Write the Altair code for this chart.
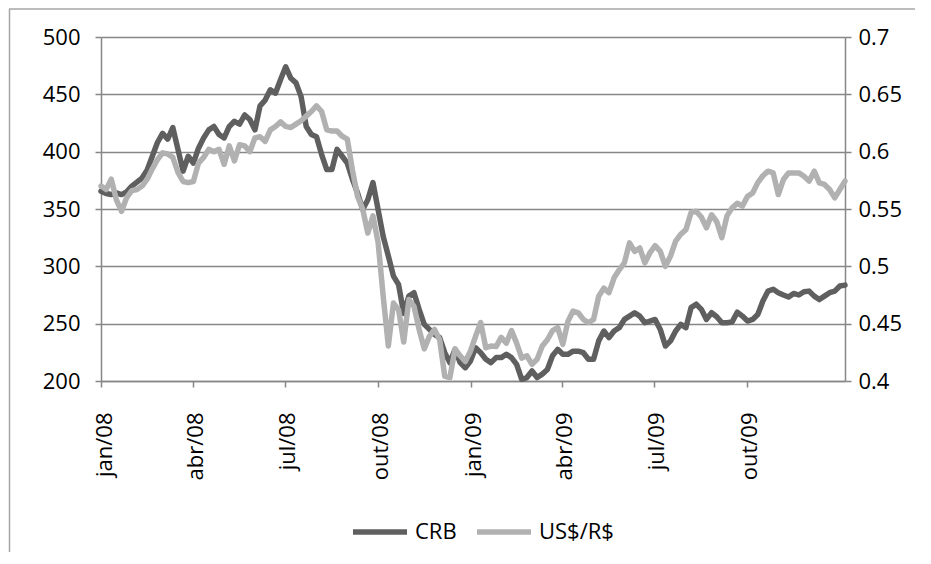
import json
import altair as alt
import pandas as pd

# ---- data ----
crb = [365.5, 363.5, 362.6, 364, 362.6, 365, 370, 373.4, 377, 384,
       396, 408, 416, 411, 421, 402, 383, 396, 390, 403,
       412, 419, 422, 415, 412, 422, 426.5, 424, 432, 428,
       419, 440, 445, 454, 451, 463, 474, 464, 460, 448,
       422, 415, 413, 397.5, 384.4, 384.4, 402, 396, 390, 376,
       364, 349.6, 358, 373, 349.6, 326, 309, 291.5, 284, 259,
       274, 277, 262.5, 249.4, 245, 240.7, 237.8, 224.7, 216, 227.6,
       216, 211.6, 217.4, 229, 224.7, 219, 216, 220.4, 220.4, 223.3,
       220.4, 214.5, 201.5, 203, 208.7, 203, 206, 210, 222, 227.6,
       223.3, 223.3, 226, 226, 224.7, 219, 219, 235, 243.6, 237.8,
       243.6, 246.5, 253.7, 256.6, 259.5, 256.6, 250.8, 252.3, 253.7, 245,
       230.5, 235, 243.6, 249.4, 246.5, 264, 267, 262.5, 253.7, 259.5,
       256, 250.8, 250.8, 251.4, 260, 256.6, 252.3, 253.7, 258, 269.7,
       278.4, 280, 277, 275, 273.2, 276.4, 275, 277.8, 278.4, 274,
       271, 274, 277, 278.4, 282.8, 283.6]

usd = [0.570, 0.567, 0.576, 0.558, 0.548, 0.560, 0.566, 0.567, 0.570, 0.576,
       0.585, 0.593, 0.599, 0.598, 0.595, 0.582, 0.574, 0.573, 0.574, 0.590,
       0.595, 0.602, 0.600, 0.602, 0.589, 0.605, 0.592, 0.606, 0.605, 0.600,
       0.612, 0.613, 0.609, 0.619, 0.622, 0.626, 0.622, 0.621, 0.624, 0.627,
       0.631, 0.635, 0.640, 0.635, 0.619, 0.618, 0.618, 0.6135, 0.611, 0.584,
       0.561, 0.550, 0.529, 0.544, 0.521, 0.474, 0.4305, 0.468, 0.462, 0.434,
       0.471, 0.465, 0.445, 0.428, 0.439, 0.445, 0.436, 0.404, 0.403, 0.428,
       0.422, 0.417, 0.426, 0.439, 0.451, 0.429, 0.4305, 0.430, 0.438, 0.433,
       0.444, 0.433, 0.420, 0.422, 0.4145, 0.419, 0.4305, 0.436, 0.444, 0.4465,
       0.432, 0.452, 0.461, 0.4595, 0.4537, 0.4508, 0.4537, 0.474, 0.481, 0.477,
       0.490, 0.497, 0.503, 0.5205, 0.513, 0.516, 0.503, 0.512, 0.518, 0.513,
       0.500, 0.509, 0.522, 0.528, 0.532, 0.547, 0.548, 0.543, 0.5336, 0.545,
       0.539, 0.525, 0.544, 0.551, 0.555, 0.5525, 0.561, 0.564, 0.573, 0.579,
       0.583, 0.5815, 0.5626, 0.5757, 0.5815, 0.5815, 0.5815, 0.5786, 0.5743, 0.583,
       0.5728, 0.5714, 0.567, 0.5597, 0.567, 0.5743]

series_names = ["CRB", "US$/R$"]
series_colors = ["#5f5f5f", "#b1b1b1"]
month_names = ["jan", "fev", "mar", "abr", "mai", "jun",
               "jul", "ago", "set", "out", "nov", "dez"]
tick_months = [(2008, 1), (2008, 4), (2008, 7), (2008, 10),
               (2009, 1), (2009, 4), (2009, 7), (2009, 10)]
left_ticks = [200, 250, 300, 350, 400, 450, 500]
right_ticks = [0.4, 0.45, 0.5, 0.55, 0.6, 0.65, 0.7]

dates = pd.date_range("2008-01-01", "2010-01-06", periods=len(crb))
df_crb = pd.DataFrame({"date": dates, "value": crb, "serie": series_names[0]})
df_usd = pd.DataFrame({"date": dates, "value": usd, "serie": series_names[1]})

FONT = "Open Sans"
AX = "#878787"
FS = 22

x_enc = alt.X(
    "date:T",
    scale=alt.Scale(domain=[alt.DateTime(year=2008, month=1, date=1),
                            alt.DateTime(year=2010, month=1, date=6)]),
    axis=alt.Axis(
        title=None,
        values=[alt.DateTime(year=y, month=m, date=1) for y, m in tick_months],
        labelExpr=json.dumps(month_names) + "[month(datum.value)] + '/' + timeFormat(datum.value, '%y')",
        labelAngle=-90, labelAlign="right", labelBaseline="middle",
        labelPadding=25, labelOffset=3, tickSize=6, grid=False,
        domainColor=AX, tickColor=AX, domainWidth=1.5, tickWidth=1.5,
        labelFont=FONT, labelFontSize=FS, labelColor="black",
    ),
)

color_enc = alt.Color(
    "serie:N",
    scale=alt.Scale(domain=series_names, range=series_colors),
    legend=alt.Legend(
        title=None, orient="none", legendX=249, legendY=465,
        direction="horizontal", symbolType="stroke", symbolSize=2916,
        symbolStrokeWidth=5.5, labelFont=FONT, labelFontSize=FS,
        labelColor="black", labelOffset=5, columnPadding=9, padding=0,
    ),
)

line_kw = dict(strokeWidth=5.5, strokeCap="round", strokeJoin="round")

crb_layer = alt.Chart(df_crb).mark_line(**line_kw).encode(
    x=x_enc,
    y=alt.Y("value:Q",
            scale=alt.Scale(domain=[200, 500], nice=False, zero=False),
            axis=alt.Axis(orient="left", title=None, values=left_ticks,
                          grid=True, gridColor=AX, gridWidth=1.5,
                          domainColor=AX, tickColor=AX, domainWidth=1.5,
                          tickWidth=1.5, tickSize=6, labelPadding=15,
                          labelFont=FONT, labelFontSize=FS, labelColor="black")),
    color=color_enc,
)

usd_layer = alt.Chart(df_usd).mark_line(**line_kw).encode(
    x=x_enc,
    y=alt.Y("value:Q",
            scale=alt.Scale(domain=[0.4, 0.7], nice=False, zero=False),
            axis=alt.Axis(orient="right", title=None, values=right_ticks,
                          format="~g", grid=False,
                          domainColor=AX, tickColor=AX, domainWidth=1.5,
                          tickWidth=1.5, tickSize=6, labelPadding=7,
                          labelFont=FONT, labelFontSize=FS, labelColor="black")),
    color=color_enc,
)

frame_src = alt.Data(values=[{"k": 1}])
frame_top = alt.Chart(frame_src).mark_rule(color="#a6a6a6", strokeWidth=1.5).encode(
    x=alt.value(-92), x2=alt.value(814), y=alt.value(-28))
frame_left = alt.Chart(frame_src).mark_rule(color="#a6a6a6", strokeWidth=1.5).encode(
    x=alt.value(-91.5), y=alt.value(-28), y2=alt.value(600))

chart = alt.layer(frame_top, frame_left, crb_layer, usd_layer).resolve_scale(
    y="independent"
).properties(
    width=744, height=344,
    padding={"left": 93, "top": 29, "right": 70, "bottom": 171},
    autosize=alt.AutoSizeParams(type="none"),
    background="white",
).configure_view(stroke="transparent")

chart.save("out.html", embed_options={"renderer": "svg", "actions": False})
